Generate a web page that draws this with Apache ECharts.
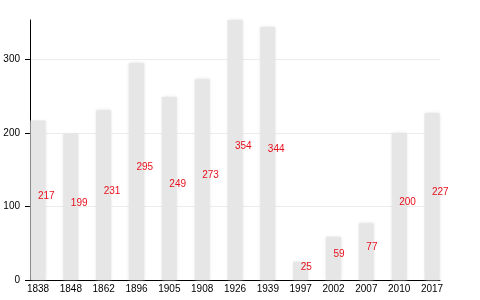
<!DOCTYPE html>
<html>
<head>
<meta charset="utf-8">
<script src="https://cdn.jsdelivr.net/npm/echarts@6/dist/echarts.min.js"></script>
<style>
html,body{margin:0;padding:0;background:#fff;}
#chart{width:480px;height:300px;}
</style>
</head>
<body>
<div id="chart"></div>
<script>
var years = ['1838','1848','1862','1896','1905','1908','1926','1939','1997','2002','2007','2010','2017'];
var population = [217,199,231,295,249,273,354,344,25,59,77,200,227];
var yTicks = [0,100,200,300];

var FONT = '"Liberation Sans", Arial, Helvetica, sans-serif';
var yMax = Math.max.apply(null, population);

var chart = echarts.init(document.getElementById('chart'), null, {renderer:'canvas'});
chart.setOption({
  animation:false,
  textStyle:{fontFamily:FONT},
  grid:[
    {left:30, right:40, top:20, bottom:20},
    {left:38, right:48, top:20, bottom:20}
  ],
  xAxis:[
    {gridIndex:0, type:'value', min:0, max:1,
      axisLine:{show:true, lineStyle:{color:'#000', width:1}},
      axisTick:{show:false}, axisLabel:{show:false}, splitLine:{show:false}},
    {gridIndex:1, type:'category', data:years, boundaryGap:false,
      axisLine:{show:false}, axisTick:{show:false}, splitLine:{show:false},
      axisLabel:{fontSize:10, color:'#000', margin:4, fontFamily:FONT, interval:0}}
  ],
  yAxis:[
    {gridIndex:0, type:'value', min:0, max:yMax, interval:100,
      axisLine:{show:true, lineStyle:{color:'#000', width:1}},
      axisTick:{show:true, length:5, lineStyle:{color:'#000'}, customValues:yTicks},
      axisLabel:{fontSize:10, color:'#000', margin:10, fontFamily:FONT, customValues:yTicks},
      splitLine:{show:true, lineStyle:{color:'#ececec', width:1}}},
    {gridIndex:1, type:'value', min:0, max:yMax, show:false}
  ],
  series:[{
    type:'bar', xAxisIndex:1, yAxisIndex:1, data:population, barWidth:15, clip:false,
    itemStyle:{color:'#e6e6e6', shadowBlur:3, shadowColor:'rgba(220,220,220,0.9)'},
    label:{show:true, position:'inside', align:'left', verticalAlign:'middle',
      offset:[0,-4], color:'#e8101c', fontSize:10, fontFamily:FONT}
  }]
});
</script>
</body>
</html>
